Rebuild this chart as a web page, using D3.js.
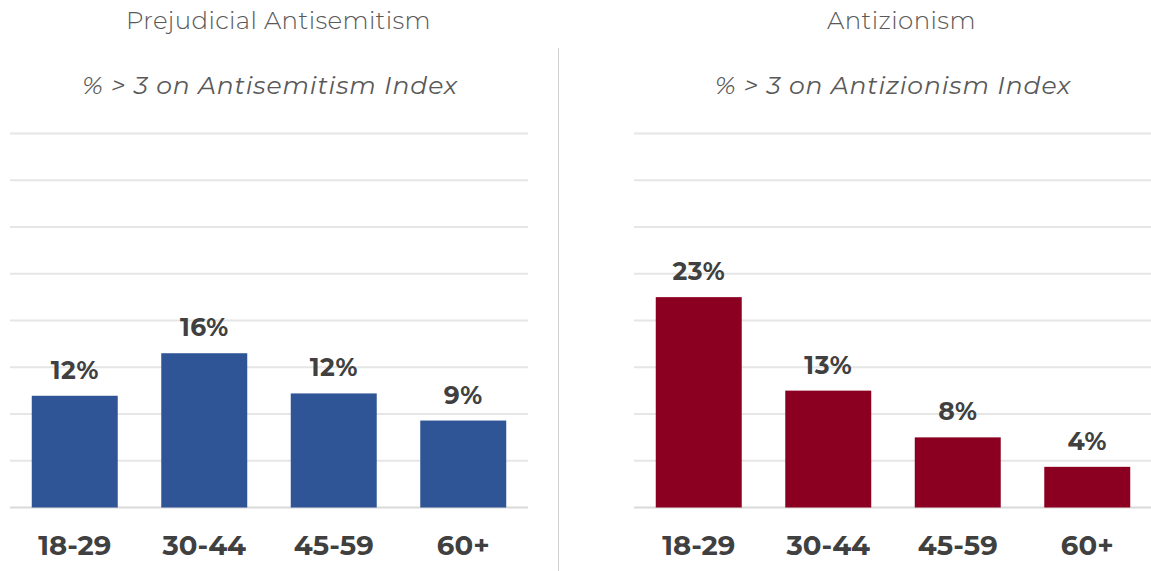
<!DOCTYPE html>
<html><head><meta charset="utf-8">
<script src="https://cdn.jsdelivr.net/npm/d3@7"></script>
<style>body{margin:0;background:#fff}svg{display:block}</style>
</head><body><svg id="c" width="1151" height="571"></svg>
<script>
const categories = ["18-29","30-44","45-59","60+"];
const antisemitismValues = [11.95, 16.5, 12.2, 9.3];
const antisemitismLabels = ["12%","16%","12%","9%"];
const antizionismValues = [22.5, 12.5, 7.5, 4.35];
const antizionismLabels = ["23%","13%","8%","4%"];
const gridTicks = [0,5,10,15,20,25,30,35,40];
const panelTitles = ["Prejudicial Antisemitism","Antizionism"];
const panelSubtitles = ["% > 3 on Antisemitism Index","% > 3 on Antizionism Index"];

const svg = d3.select("#c");
const font = "Montserrat, 'Open Sans', Lato, sans-serif";
const panels = [
  {x0:10, x1:528, values:antisemitismValues, labels:antisemitismLabels, color:"#2F5597", title:panelTitles[0], sub:panelSubtitles[0], tx:278.5, sx:270},
  {x0:634, x1:1152, values:antizionismValues, labels:antizionismLabels, color:"#8B0021", title:panelTitles[1], sub:panelSubtitles[1], tx:901.5, sx:893}
];
const y = d3.scaleLinear().domain([0,40]).range([507.5,133.5]);

svg.append("line").attr("x1",558.5).attr("x2",558.5).attr("y1",48).attr("y2",571)
  .attr("stroke","#d0d0d0").attr("stroke-width",1);

panels.forEach(p=>{
  const x = d3.scaleBand().domain(categories).range([p.x0,p.x1]).paddingInner(0.336).paddingOuter(0.168);
  const g = svg.append("g");
  g.selectAll("line.grid").data(gridTicks).join("line")
    .attr("x1",p.x0).attr("x2",p.x1)
    .attr("y1",d=>y(d)).attr("y2",d=>y(d))
    .attr("stroke",d=>d===0?"#d9d9d9":"#e6e6e6").attr("stroke-width",2);
  g.selectAll("rect").data(p.values).join("rect")
    .attr("x",(d,i)=>x(categories[i])).attr("width",x.bandwidth())
    .attr("y",d=>y(d)).attr("height",d=>y(0)-y(d))
    .attr("fill",p.color);
  g.selectAll("text.val").data(p.values).join("text")
    .attr("x",(d,i)=>x(categories[i])+x.bandwidth()/2)
    .attr("y",d=>y(d)-17)
    .attr("text-anchor","middle").attr("font-family",font).attr("font-weight",700)
    .attr("font-size",25).attr("fill","#404040").attr("letter-spacing",0.5)
    .text((d,i)=>p.labels[i]);
  g.selectAll("text.cat").data(categories).join("text")
    .attr("x",d=>x(d)+x.bandwidth()/2).attr("y",555)
    .attr("text-anchor","middle").attr("font-family",font).attr("font-weight",700)
    .attr("font-size",27.5).attr("fill","#404040").text(d=>d);
  svg.append("text").attr("x",p.tx).attr("y",29).attr("text-anchor","middle")
    .attr("font-family",font).attr("font-weight",300).attr("font-size",24.5)
    .attr("letter-spacing",0.4)
    .attr("fill","#595959").text(p.title);
  svg.append("text").attr("x",p.sx).attr("y",94).attr("text-anchor","middle")
    .attr("font-family",font).attr("font-style","italic").attr("font-size",25)
    .attr("letter-spacing",0.9)
    .attr("fill","#595959").text(p.sub);
});
</script></body></html>
